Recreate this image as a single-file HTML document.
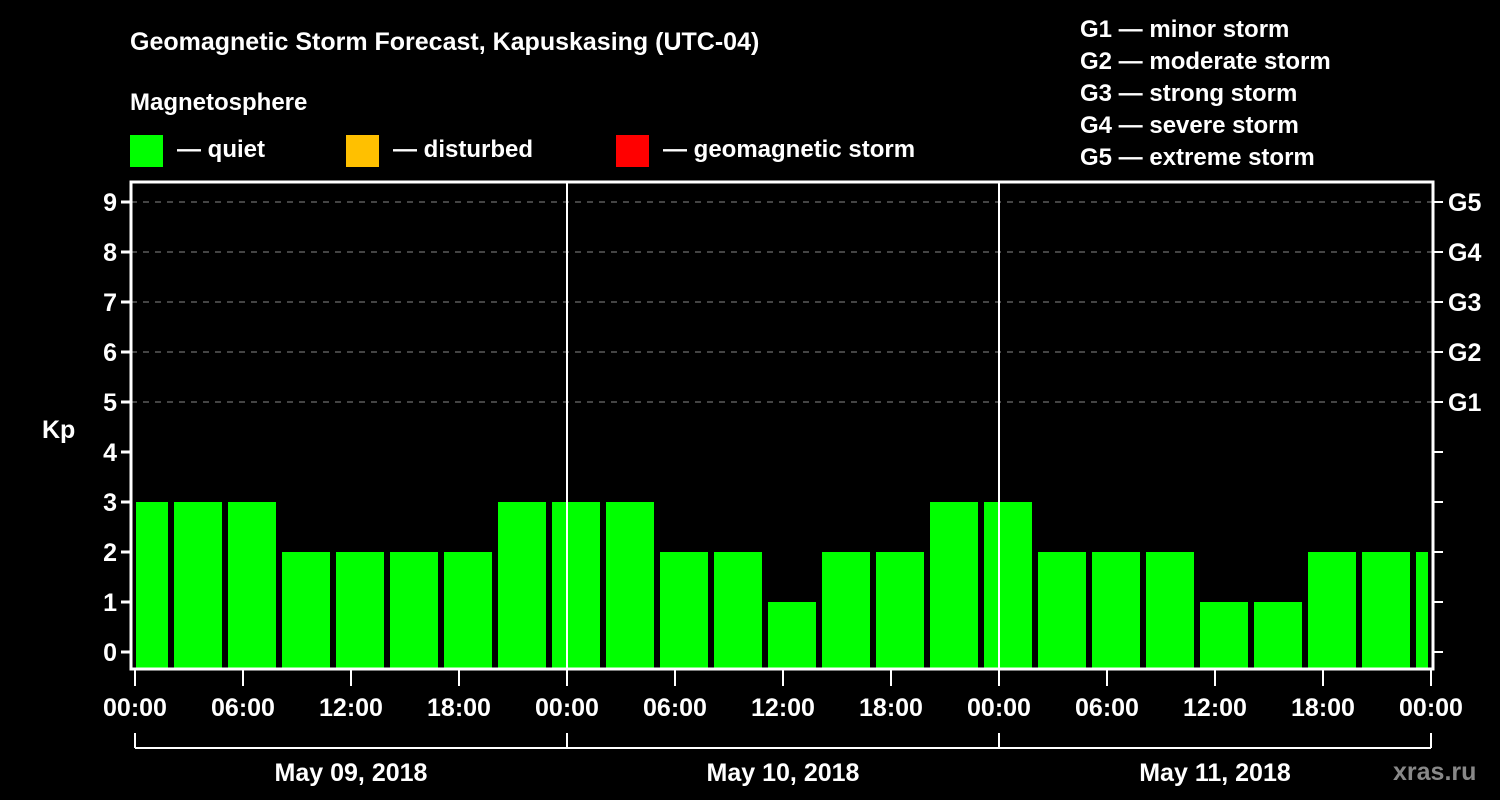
<!DOCTYPE html>
<html><head><meta charset="utf-8"><style>
body{margin:0;background:#000;}
svg{display:block;font-family:"Liberation Sans",Arial,sans-serif;font-weight:bold;}
</style></head><body>
<svg id="c" width="1500" height="800" viewBox="0 0 1500 800">
<rect width="1500" height="800" fill="#000"/>
<text x="130" y="50" fill="#fff" font-size="25">Geomagnetic Storm Forecast, Kapuskasing (UTC-04)</text>
<text x="130" y="110" fill="#fff" font-size="24">Magnetosphere</text>
<g><rect x="130" y="135" width="33" height="32" fill="#00ff00"/><text x="177" y="157" fill="#fff" font-size="24">— quiet</text></g>
<g><rect x="346" y="135" width="33" height="32" fill="#ffc000"/><text x="393" y="157" fill="#fff" font-size="24">— disturbed</text></g>
<g><rect x="616" y="135" width="33" height="32" fill="#ff0000"/><text x="663" y="157" fill="#fff" font-size="24">— geomagnetic storm</text></g>
<g fill="#fff" font-size="24">
<text x="1080" y="37">G1 — minor storm</text>
<text x="1080" y="69">G2 — moderate storm</text>
<text x="1080" y="101">G3 — strong storm</text>
<text x="1080" y="133">G4 — severe storm</text>
<text x="1080" y="165">G5 — extreme storm</text>
</g>
<text x="42" y="438" fill="#fff" font-size="25">Kp</text>
<g id="grid"></g><g id="bars"></g><g id="axes"></g>
<text x="1393" y="780" fill="#888" font-size="25">xras.ru</text>
</svg>
<script>
const values=[3,3,3,2,2,2,2,3,3,3,2,2,1,2,2,3,3,2,2,2,1,1,2,2,2];
const yTicks=[0,1,2,3,4,5,6,7,8,9];
const gLabels=["","","","","","G1","G2","G3","G4","G5"];
const xLabels=["00:00","06:00","12:00","18:00","00:00","06:00","12:00","18:00","00:00","06:00","12:00","18:00","00:00"];
const days=["May 09, 2018","May 10, 2018","May 11, 2018"];
const NS="http://www.w3.org/2000/svg";
const L=131,R=1433,T=182,B=669,X0=135,HPX=18;
const y=v=>652-50*v;
const x=h=>X0+h*HPX;
function mk(p,t,a){const e=document.createElementNS(NS,t);for(const k in a)e.setAttribute(k,a[k]);p.appendChild(e);return e;}
const grid=document.getElementById('grid'),bars=document.getElementById('bars'),axes=document.getElementById('axes');
yTicks.forEach(v=>{if(v>=5){const g=mk(grid,'line',{x1:L,x2:R,y1:y(v),y2:y(v),stroke:'#888','stroke-dasharray':'6 6','stroke-width':1});

}});
values.forEach((v,i)=>{let a=x(i*3)-15,b=x(i*3)+33;a=Math.max(a,L+5);b=Math.min(b,R-5);
const r=mk(bars,'rect',{x:a,y:y(v),width:b-a,height:B-1-y(v),fill:'#00ff00'});

});
[1,2].forEach(d=>{const l=mk(axes,'line',{x1:x(d*24),x2:x(d*24),y1:T,y2:B,stroke:'#fff','stroke-width':2});

});
const fr=mk(axes,'rect',{x:L,y:T,width:R-L,height:B-T,fill:'none',stroke:'#fff','stroke-width':3});


yTicks.forEach((v,i)=>{mk(axes,'line',{x1:L-10,x2:L,y1:y(v),y2:y(v),stroke:'#fff','stroke-width':3});
mk(axes,'line',{x1:R,x2:R+10,y1:y(v),y2:y(v),stroke:'#fff','stroke-width':2});
const t=mk(axes,'text',{x:L-14,y:y(v)+9,fill:'#fff','font-size':25,'text-anchor':'end'});t.textContent=v;


if(gLabels[i]){const g=mk(axes,'text',{x:1448,y:y(v)+9,fill:'#fff','font-size':25});g.textContent=gLabels[i];

}});
xLabels.forEach((s,i)=>{const xx=x(i*6);mk(axes,'line',{x1:xx,x2:xx,y1:B,y2:686,stroke:'#fff','stroke-width':2});
const t=mk(axes,'text',{x:xx,y:716,fill:'#fff','font-size':25,'text-anchor':'middle'});t.textContent=s;

});
mk(axes,'line',{x1:x(0),x2:x(72),y1:748,y2:748,stroke:'#fff','stroke-width':2});
[0,1,2,3].forEach(d=>mk(axes,'line',{x1:x(d*24),x2:x(d*24),y1:733,y2:748,stroke:'#fff','stroke-width':2}));
days.forEach((s,d)=>{const t=mk(axes,'text',{x:x(d*24+12),y:781,fill:'#fff','font-size':25,'text-anchor':'middle'});t.textContent=s;

});
</script>
</body></html>
